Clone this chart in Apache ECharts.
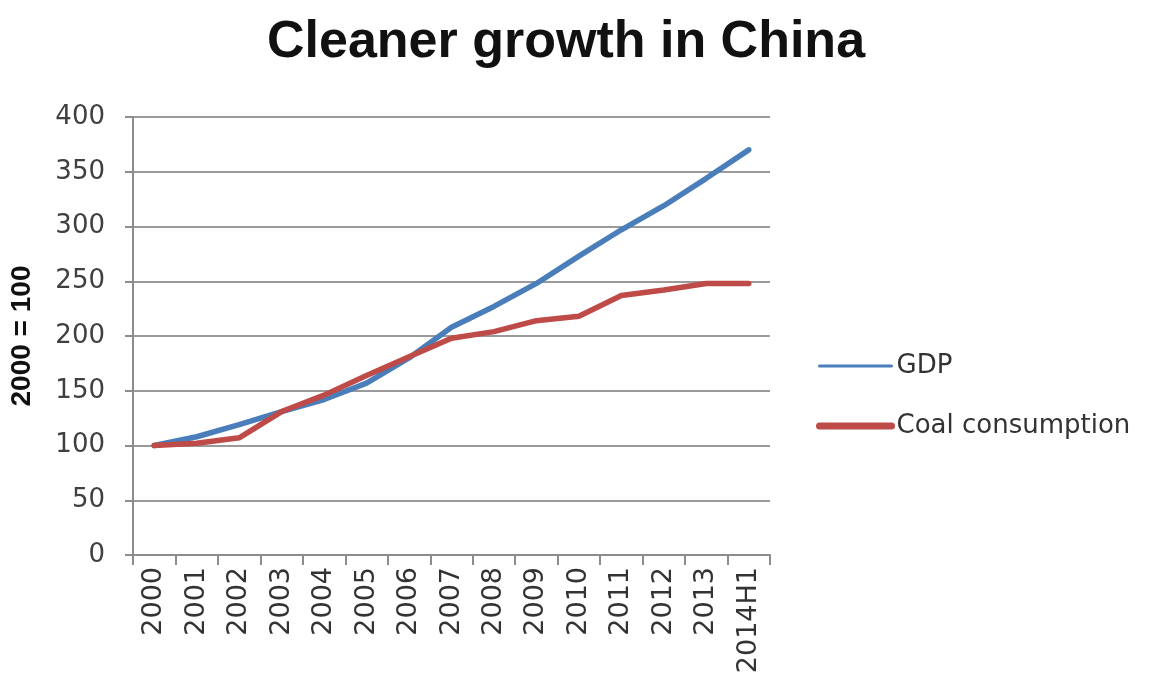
<!DOCTYPE html>
<html>
<head>
<meta charset="utf-8">
<script src="https://cdn.jsdelivr.net/npm/echarts@6/dist/echarts.min.js"></script>
<style>html,body{margin:0;padding:0;background:#fff}#c{width:1154px;height:680px}</style>
</head>
<body>
<div id="c"></div>
<script>
const categories = ['2000','2001','2002','2003','2004','2005','2006','2007','2008','2009','2010','2011','2012','2013','2014H1'];
const gdp = [100, 108, 119, 131, 142, 157, 180, 208, 227, 248, 273, 297, 319, 344, 370];
const coal = [100, 102, 107, 131, 146, 164, 181, 198, 204, 214, 218, 237, 242, 248, 248];
const yTicks = {min: 0, max: 400, interval: 50};

const chart = echarts.init(document.getElementById('c'));
chart.setOption({
  backgroundColor: '#fff',
  animation: false,
  title: {
    text: 'Cleaner growth in China',
    left: 262, top: 12,
    textStyle: {fontFamily: 'Liberation Sans', fontWeight: 'bold', fontSize: 52, color: '#111'}
  },
  legend: {
    orient: 'vertical', left: 811, top: 348,
    itemWidth: 72, itemHeight: 14, itemGap: 34,
    itemStyle: {opacity: 0},
    textStyle: {fontFamily: 'DejaVu Sans', fontSize: 26, color: '#333'},
    data: [
      {name: 'GDP', lineStyle: {width: 3}, itemStyle: {opacity: 0}},
      {name: 'Coal consumption', lineStyle: {width: 7}, itemStyle: {opacity: 0}}
    ]
  },
  grid: {left: 131, right: 384, top: 117, bottom: 125},
  xAxis: {
    type: 'category', data: categories, boundaryGap: true,
    axisLine: {lineStyle: {color: '#8c8c8c', width: 2}},
    axisTick: {show: true, length: 10, lineStyle: {color: '#8c8c8c', width: 2}, alignWithLabel: false},
    axisLabel: {rotate: 90, margin: 12, interval: 0, fontFamily: 'DejaVu Sans', fontSize: 27, color: '#333'}
  },
  yAxis: {
    type: 'value', min: yTicks.min, max: yTicks.max, interval: yTicks.interval,
    name: '2000 = 100', nameLocation: 'middle', nameGap: 97, nameRotate: 90,
    nameTextStyle: {fontFamily: 'Liberation Sans', fontWeight: 'bold', fontSize: 28, color: '#111'},
    axisLine: {show: true, lineStyle: {color: '#8c8c8c', width: 2}},
    axisTick: {show: true, length: 8, lineStyle: {color: '#8c8c8c', width: 2}},
    axisLabel: {margin: 28, fontFamily: 'DejaVu Sans', fontSize: 26, color: '#404040'},
    splitLine: {lineStyle: {color: '#9a9a9a', width: 2}}
  },
  series: [
    {name: 'GDP', type: 'line', data: gdp, symbol: 'none', lineStyle: {color: '#4a7ebb', width: 5.5, cap: 'round'}, itemStyle: {color: '#4a7ebb'}, z: 2},
    {name: 'Coal consumption', type: 'line', data: coal, symbol: 'none', lineStyle: {color: '#be4b48', width: 5.5, cap: 'round'}, itemStyle: {color: '#be4b48'}, z: 3}
  ]
});
</script>
</body>
</html>
